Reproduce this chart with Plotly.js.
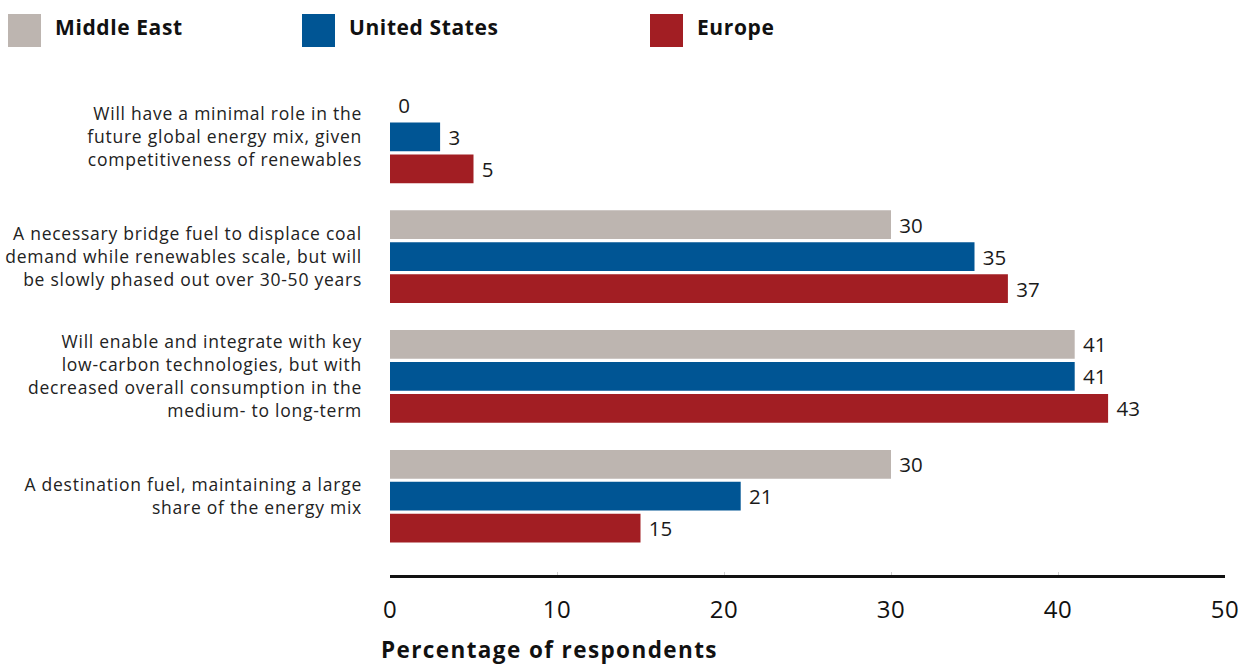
<!DOCTYPE html>
<html>
<head>
<meta charset="utf-8">
<script src="https://cdn.plot.ly/plotly-3.0.1.min.js"></script>
<style>
html,body{margin:0;padding:0;background:#fff;}
#chart{width:1243px;height:664px;}
#chart .ytick text{letter-spacing:0.75px;}
#chart .xtick text{letter-spacing:0.5px;}
#chart g.annotation text{letter-spacing:0.6px;}
#chart g.annotation[data-index="6"] text{letter-spacing:1.4px;}
</style>
</head>
<body>
<div id="chart"></div>
<script>
// ---- data ----
const categories = [
  "Will have a minimal role in the<br>future global energy mix, given<br>competitiveness of renewables",
  "A necessary bridge fuel to displace coal<br>demand while renewables scale, but will<br>be slowly phased out over 30-50 years",
  "Will enable and integrate with key<br>low-carbon technologies, but with<br>decreased overall consumption in the<br>medium- to long-term",
  "A destination fuel, maintaining a large<br>share of the energy mix"
];
const seriesNames = ["Middle East", "United States", "Europe"];
const middleEast   = [0, 30, 41, 30];
const unitedStates = [3, 35, 41, 21];
const europe       = [5, 37, 43, 15];
const xTickValues  = [0, 10, 20, 30, 40, 50];
const xAxisTitle   = "Percentage of respondents";

// ---- styles ----
const colors = ["#bdb5b0", "#005594", "#a21e23"];
const FONT = "'Open Sans', sans-serif";
const W = 1243, H = 664;
const M = {l: 390, r: 18, t: 77, b: 89};
const plotW = W - M.l - M.r, plotH = H - M.t - M.b;
const px = x => (x - M.l) / plotW;           // pixel -> paper x
const py = y => (H - M.b - y) / plotH;       // pixel -> paper y

const seriesValues = [middleEast, unitedStates, europe];
const traces = seriesValues.map((vals, i) => ({
  type: "bar",
  orientation: "h",
  name: seriesNames[i],
  x: vals,
  y: categories,
  marker: {color: colors[i]},
  texttemplate: "\u00a0%{x}",
  textposition: "outside",
  cliponaxis: false,
  textfont: {family: FONT, size: 20.5, color: "#1a1a1a"},
  showlegend: false,
  hoverinfo: "skip"
}));

// custom legend (large squares + bold labels)
const legendSquareX = [8, 302, 650];
const annotations = [];
seriesNames.forEach((n, i) => {
  annotations.push({
    xref: "paper", yref: "paper",
    x: px(legendSquareX[i]), y: py(30.5),
    xanchor: "left", yanchor: "middle",
    text: "\u00a0", showarrow: false,
    width: 33, height: 33, borderpad: 0, borderwidth: 0,
    bgcolor: colors[i]
  });
  annotations.push({
    xref: "paper", yref: "paper",
    x: px(legendSquareX[i] + 45), y: py(27),
    xanchor: "left", yanchor: "middle", align: "left",
    text: "<b>" + n + "</b>", showarrow: false,
    font: {family: FONT, size: 21, color: "#111"}
  });
});
annotations.push({
  xref: "paper", yref: "paper",
  x: px(379), y: py(649),
  xanchor: "left", yanchor: "middle", align: "left",
  text: "<b>" + xAxisTitle + "</b>", showarrow: false,
  font: {family: FONT, size: 22.5, color: "#111"}
});

const layout = {
  width: W, height: H,
  margin: M,
  paper_bgcolor: "#fff", plot_bgcolor: "#fff",
  barmode: "group",
  bargap: 0.2,
  bargroupgap: 0.1,
  font: {family: FONT, color: "#222"},
  showlegend: false,
  hovermode: false,
  xaxis: {
    range: [0, 50],
    tickvals: xTickValues,
    showgrid: false, zeroline: false,
    showline: true, linewidth: 2.5, linecolor: "#111",
    ticks: "inside", ticklen: 3, tickcolor: "#d0d0d0", tickwidth: 1,
    ticklabelstandoff: 12,
    tickfont: {family: FONT, size: 24, color: "#111"},
    fixedrange: true
  },
  yaxis: {
    type: "category",
    categoryorder: "array", categoryarray: categories,
    range: [3.658, -0.5],
    autorange: false,
    showgrid: false, zeroline: false, showline: false,
    ticks: "",
    ticklabelstandoff: 27,
    tickfont: {family: FONT, size: 17.5, color: "#222"},
    fixedrange: true
  },
  annotations: annotations
};

Plotly.newPlot("chart", traces, layout, {displayModeBar: false, staticPlot: true});
</script>
</body>
</html>
